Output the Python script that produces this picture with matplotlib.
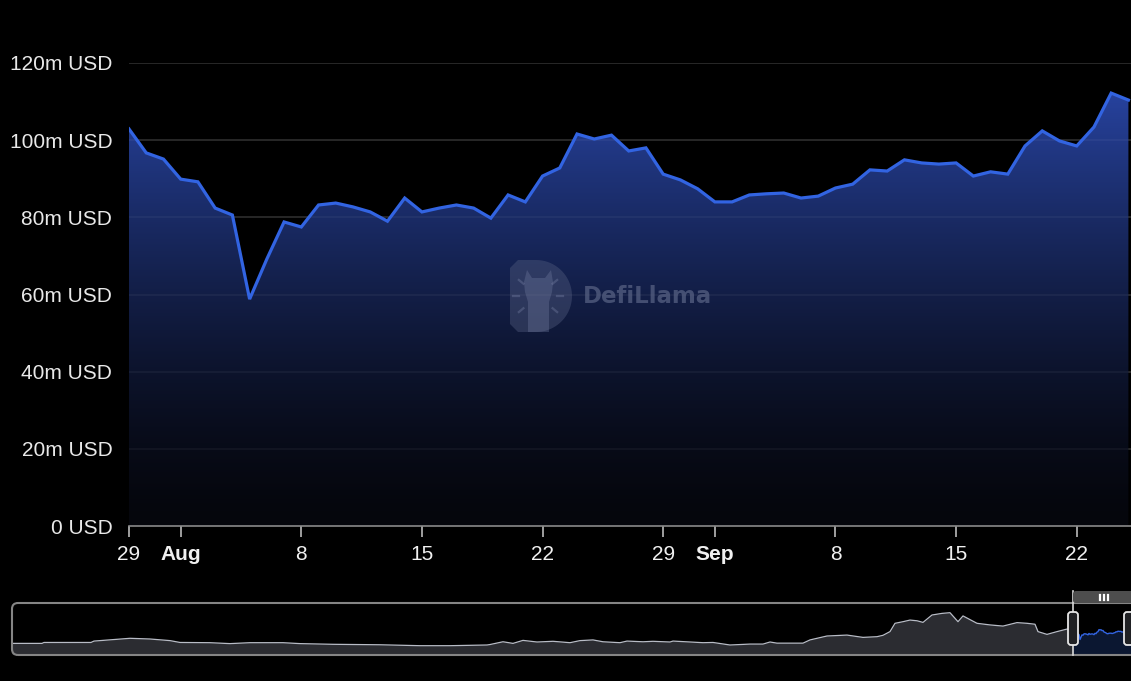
import numpy as np
import pandas as pd
import matplotlib
matplotlib.use("Agg")
import matplotlib.pyplot as plt
import matplotlib.dates as mdates
from matplotlib.patches import FancyBboxPatch, Polygon
from matplotlib.transforms import IdentityTransform

# daily TVL, m USD, Jul 29 -> Sep 25
tvl = [102.9, 96.7, 95.1, 89.9, 89.2, 82.4, 80.6, 58.8, 69.2, 78.8,
       77.5, 83.2, 83.7, 82.7, 81.4, 79.0, 85.0, 81.4, 82.4, 83.2,
       82.4, 79.8, 85.8, 84.0, 90.7, 92.8, 101.6, 100.3, 101.3, 97.2,
       98.0, 91.2, 89.7, 87.4, 84.0, 84.0, 85.8, 86.1, 86.3, 85.0,
       85.5, 87.6, 88.6, 92.3, 92.0, 94.9, 94.1, 93.8, 94.1, 90.7,
       91.8, 91.2, 98.5, 102.4, 99.8, 98.5, 103.4, 112.2, 110.4]
start = "2024-07-29"

y_ticks = [0, 20, 40, 60, 80, 100, 120]
y_labels = ["0 USD", "20m USD", "40m USD", "60m USD", "80m USD", "100m USD", "120m USD"]
x_tick_dates = ["2024-07-29", "2024-08-01", "2024-08-08", "2024-08-15", "2024-08-22",
                "2024-08-29", "2024-09-01", "2024-09-08", "2024-09-15", "2024-09-22"]
x_tick_labels = ["29", "Aug", "8", "15", "22", "29", "Sep", "8", "15", "22"]
month_labels = ["Aug", "Sep"]

# overview (brush) history before the window: days relative to start, m USD
hist_days = [-1061, -1031, -1029, -982, -979, -943, -923, -903, -893, -863, -843, -823,
             -790, -773, -740, -693, -653, -623, -586, -583, -570, -560, -550, -536,
             -520, -503, -493, -480, -470, -453, -446, -430, -420, -403, -400, -370,
             -360, -343, -323, -310, -303, -296, -270, -263, -246, -226, -210, -196,
             -190, -183, -178, -170, -163, -156, -150, -141, -131, -123, -115, -110,
             -96, -83, -70, -56, -46, -38, -35, -26, -16, -6, -1]
hist_vals = [42, 42, 46, 46, 52, 64, 61, 54, 46, 45, 41, 45,
             45, 41, 38, 36, 32, 32, 35, 37, 49, 42, 55, 48,
             51, 45, 54, 57, 49, 45, 52, 49, 51, 48, 52, 45,
             46, 35, 39, 39, 48, 43, 43, 57, 74, 78, 68, 71,
             77, 93, 129, 136, 143, 140, 133, 165, 172, 175, 136, 161,
             129, 122, 117, 132, 129, 125, 93, 81, 93, 104, 103]

W, H = 1131, 681
BLUE = "#3264e2"

plt.rcParams["font.family"] = ["Liberation Sans", "DejaVu Sans"]
fig = plt.figure(figsize=(W / 100, H / 100), dpi=100, facecolor="black")

# ---- main chart
ax = fig.add_axes([129 / W, (H - 526) / H, (W - 129) / W, (526 - 63) / H])
ax.set_facecolor("black")
dates = pd.date_range(start, periods=len(tvl), freq="D")
xnum = mdates.date2num(dates)
x0 = xnum[0]
x1 = x0 + 58.15
ax.set_xlim(x0, x1)
ax.set_ylim(0, 120)

for v in y_ticks[1:]:
    ax.axhline(v, color="#242424", lw=1.2, zorder=0)

poly = ax.fill_between(xnum, tvl, 0, facecolor="none", edgecolor="none")
top_c = np.array([42, 72, 172]) / 255
bot_c = np.array([5, 6, 12]) / 255
t = np.linspace(0, 1, 256)[:, None] ** 1.45
grad = (bot_c[None, :] * (1 - t) + top_c[None, :] * t)[:, None, :]
im = ax.imshow(grad, extent=[x0, x1, 0, 120], origin="lower", aspect="auto", zorder=1)
im.set_clip_path(poly.get_paths()[0], transform=ax.transData)

for v in y_ticks[1:]:
    ax.axhline(v, color="white", alpha=0.05, lw=1.2, zorder=2)

ax.plot(xnum, tvl, color=BLUE, lw=2.3, zorder=3, solid_joinstyle="miter")

for s in ["top", "right", "left"]:
    ax.spines[s].set_visible(False)
ax.spines["bottom"].set_color("#8a8a8a")
ax.spines["bottom"].set_linewidth(1.2)
ax.set_yticks(y_ticks)
ax.set_yticklabels(y_labels)
ax.tick_params(axis="y", length=0, pad=12, labelsize=15, labelcolor="#e8e8e8")
ax.set_xticks(mdates.date2num(pd.to_datetime(x_tick_dates)))
ax.set_xticklabels(x_tick_labels)
ax.tick_params(axis="x", length=8, width=1.2, color="#bbbbbb", pad=6,
               labelsize=15, labelcolor="#f0f0f0")
for lab in ax.get_xticklabels():
    if lab.get_text() in month_labels:
        lab.set_fontweight("bold")

# ---- watermark (pixel coordinates, y down)
PXT = IdentityTransform()


def p(x, y):
    return (x, H - y)


wm = "#566082"
cx_d, cy_d, r_d = 536, 296, 36
d_pts = [p(518, cy_d - r_d)] + [p(cx_d + r_d * np.cos(a), cy_d + r_d * np.sin(a))
                                for a in np.linspace(-np.pi / 2, np.pi / 2, 40)] + \
        [p(518, cy_d + r_d), p(510, cy_d + r_d - 8), p(510, cy_d - r_d + 8)]
fig.patches.append(Polygon(d_pts, closed=True, transform=PXT,
                           facecolor=wm, alpha=0.4, edgecolor="none", zorder=4))
llama = [p(528, 332), p(528, 302), p(525, 292), p(524, 282), p(527, 270), p(532, 278),
         p(545, 278), p(551, 270), p(553, 282), p(552, 292), p(549, 302), p(549, 332)]
fig.patches.append(Polygon(llama, closed=True, transform=PXT,
                           facecolor="#7c86aa", alpha=0.3, edgecolor="none", zorder=5))
for a in np.radians([-140, -180, -220, -40, 0, 40]):
    xs = [cx_d + 2 + 19 * np.cos(a), cx_d + 2 + 25 * np.cos(a)]
    ys = [H - (cy_d + 19 * np.sin(a)), H - (cy_d + 25 * np.sin(a))]
    fig.add_artist(plt.Line2D(xs, ys, transform=PXT, color="#7c86aa", alpha=0.35,
                              lw=1.6, zorder=5))
fig.text(583 / W, 1 - 296 / H, "DefiLlama", color=wm, alpha=0.75, fontsize=16.5,
         fontweight="bold", family=["DejaVu Sans"], ha="left", va="center", zorder=5)

# ---- overview brush
mini = fig.add_axes([12 / W, (H - 654) / H, (W - 12) / W, (654 - 603) / H])
mini.set_facecolor("black")
win_days = list((dates - dates[0]).days)
all_days = hist_days + win_days
all_vals = hist_vals + tvl
mini.set_xlim(hist_days[0], 58)
mini.set_ylim(-4, 217)
mini.fill_between(all_days, all_vals, -4, color="#2b2c31", lw=0, zorder=1)
mini.plot(hist_days + [0], hist_vals + [tvl[0]], color="#b8bcc6", lw=0.9, zorder=2)
mini.fill_between(win_days, tvl, -4, color="#0b1731", lw=0, zorder=3)
mini.plot(win_days, tvl, color=BLUE, lw=1.0, zorder=4)
mini.axis("off")
fig.patches.append(FancyBboxPatch(p(12, 655), W + 20 - 12, 52,
                                  boxstyle="round,pad=0,rounding_size=6", transform=PXT,
                                  fill=False, edgecolor="#858585", lw=1.5, zorder=6))

# window handles
fig.canvas.draw()
hx = mini.transData.transform((0, 0))[0]
fig.add_artist(plt.Line2D([hx, hx], [H - 591, H - 655], transform=PXT,
                          color="#d8d8d8", lw=1.2, zorder=7))
fig.patches.append(FancyBboxPatch(p(hx, 603), W - hx + 10, 12,
                                  boxstyle="round,pad=0,rounding_size=3", transform=PXT,
                                  facecolor="#4d4d4d", edgecolor="none", zorder=7))
for dx in (-4, 0, 4):
    cx = hx + 31 + dx
    fig.add_artist(plt.Line2D([cx, cx], [H - 594.5, H - 599.5],
                              transform=PXT, color="white", lw=1.6, zorder=8))
for cx in (hx, W - 2):
    fig.patches.append(FancyBboxPatch(p(cx - 5, 645), 10, 33,
                                      boxstyle="round,pad=0,rounding_size=3", transform=PXT,
                                      facecolor="#202124", edgecolor="#e6e6e6", lw=1.3, zorder=9))

fig.savefig("out.png", dpi=100, facecolor="black")
